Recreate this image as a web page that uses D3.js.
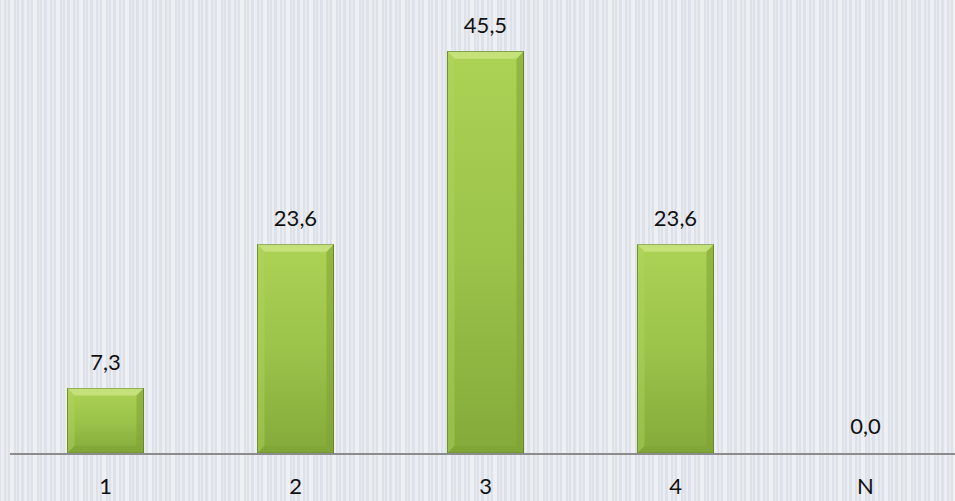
<!DOCTYPE html>
<html>
<head>
<meta charset="utf-8">
<script src="https://cdn.jsdelivr.net/npm/d3@7"></script>
<style>
  body { margin: 0; background: #e2e5eb; }
  svg { display: block; }
  text { font-family: Lato, "Open Sans", sans-serif; fill: #111; }
</style>
</head>
<body>
<div id="chart"></div>
<script>
var categories = ["1", "2", "3", "4", "N"];
var values = [7.3, 23.6, 45.5, 23.6, 0.0];
var valueLabels = ["7,3", "23,6", "45,5", "23,6", "0,0"];

var width = 955, height = 501;
var margin = { top: 12, left: 10.5, right: -5.5, bottom: 48 };

var svg = d3.select("#chart").append("svg")
  .attr("width", width)
  .attr("height", height);

var defs = svg.append("defs");

// striped background, like the office texture
var pat = defs.append("pattern")
  .attr("id", "stripes")
  .attr("patternUnits", "userSpaceOnUse")
  .attr("width", 23).attr("height", 10);
pat.append("rect").attr("width", 23).attr("height", 10).attr("fill", "#dde1e8");
[[1, 3, "#eceef3"], [6, 2, "#e7eaf0"], [10, 4, "#eef0f4"], [16, 1, "#e6e9ef"], [19, 2, "#ebedf2"]]
  .forEach(function(s) {
    pat.append("rect").attr("x", s[0]).attr("width", s[1]).attr("height", 10).attr("fill", s[2]);
  });

svg.append("rect").attr("width", width).attr("height", height).attr("fill", "url(#stripes)");

var body = defs.append("linearGradient").attr("id", "barBody")
  .attr("x1", 0).attr("y1", 0).attr("x2", 0).attr("y2", 1);
body.append("stop").attr("offset", "0%").attr("stop-color", "#acd255");
body.append("stop").attr("offset", "50%").attr("stop-color", "#9cc34a");
body.append("stop").attr("offset", "100%").attr("stop-color", "#84aa3a");

var x = d3.scaleBand()
  .domain(categories)
  .range([margin.left, width - margin.right])
  .paddingInner(0.6)
  .paddingOuter(0.3);

var y = d3.scaleLinear()
  .domain([0, 50])
  .range([height - margin.bottom, margin.top]);

var data = categories.map(function(c, i) { return { cat: c, value: values[i], label: valueLabels[i] }; });

var bars = svg.selectAll(".bar")
  .data(data.filter(function(d) { return d.value > 0; }))
  .enter().append("g")
  .attr("class", "bar");

bars.append("rect")
  .attr("x", function(d) { return x(d.cat); })
  .attr("y", function(d) { return y(d.value); })
  .attr("width", x.bandwidth())
  .attr("height", function(d) { return y(0) - y(d.value); })
  .attr("fill", "url(#barBody)")
  .attr("stroke", "#5f7f24")
  .attr("stroke-width", 1);

// bevel edges
var bev = 7;
bars.append("path")
  .attr("fill", "#c6e27e")
  .attr("opacity", 0.9)
  .attr("d", function(d) {
    var x0 = x(d.cat), x1 = x0 + x.bandwidth(), y0 = y(d.value);
    return "M" + x0 + "," + y0 + "L" + x1 + "," + y0 + "L" + (x1 - bev) + "," + (y0 + bev) +
      "L" + (x0 + bev) + "," + (y0 + bev) + "Z";
  });
bars.append("path")
  .attr("fill", "#b0d45e")
  .attr("opacity", 0.45)
  .attr("d", function(d) {
    var x0 = x(d.cat), y0 = y(d.value), y1 = y(0);
    return "M" + x0 + "," + y0 + "L" + (x0 + bev) + "," + (y0 + bev) + "L" + (x0 + bev) + "," + (y1 - bev) +
      "L" + x0 + "," + y1 + "Z";
  });
bars.append("path")
  .attr("fill", "#7fa135")
  .attr("opacity", 0.55)
  .attr("d", function(d) {
    var x1 = x(d.cat) + x.bandwidth(), y0 = y(d.value), y1 = y(0);
    return "M" + x1 + "," + y0 + "L" + (x1 - bev) + "," + (y0 + bev) + "L" + (x1 - bev) + "," + (y1 - bev) +
      "L" + x1 + "," + y1 + "Z";
  });
bars.append("path")
  .attr("fill", "#7ea236")
  .attr("opacity", 0.5)
  .attr("d", function(d) {
    var x0 = x(d.cat), x1 = x0 + x.bandwidth(), y1 = y(0);
    return "M" + x0 + "," + y1 + "L" + (x0 + bev) + "," + (y1 - bev) + "L" + (x1 - bev) + "," + (y1 - bev) +
      "L" + x1 + "," + y1 + "Z";
  });

// value labels
svg.selectAll(".val")
  .data(data)
  .enter().append("text")
  .attr("class", "val")
  .attr("x", function(d) { return x(d.cat) + x.bandwidth() / 2; })
  .attr("y", function(d) { return y(d.value) - 19; })
  .attr("text-anchor", "middle")
  .attr("font-size", 22)
  .text(function(d) { return d.label; });

// x axis
var axis = svg.append("g")
  .attr("transform", "translate(0," + (y(0) + 1) + ")")
  .call(d3.axisBottom(x).tickSize(0).tickPadding(24));
axis.select(".domain").attr("stroke", "#8c8c8c").attr("stroke-width", 2)
  .attr("d", "M10,0H955");
axis.selectAll(".tick text")
  .attr("font-size", 22)
  .attr("font-family", "Lato, 'Open Sans', sans-serif")
  .attr("fill", "#111");
</script>
</body>
</html>
